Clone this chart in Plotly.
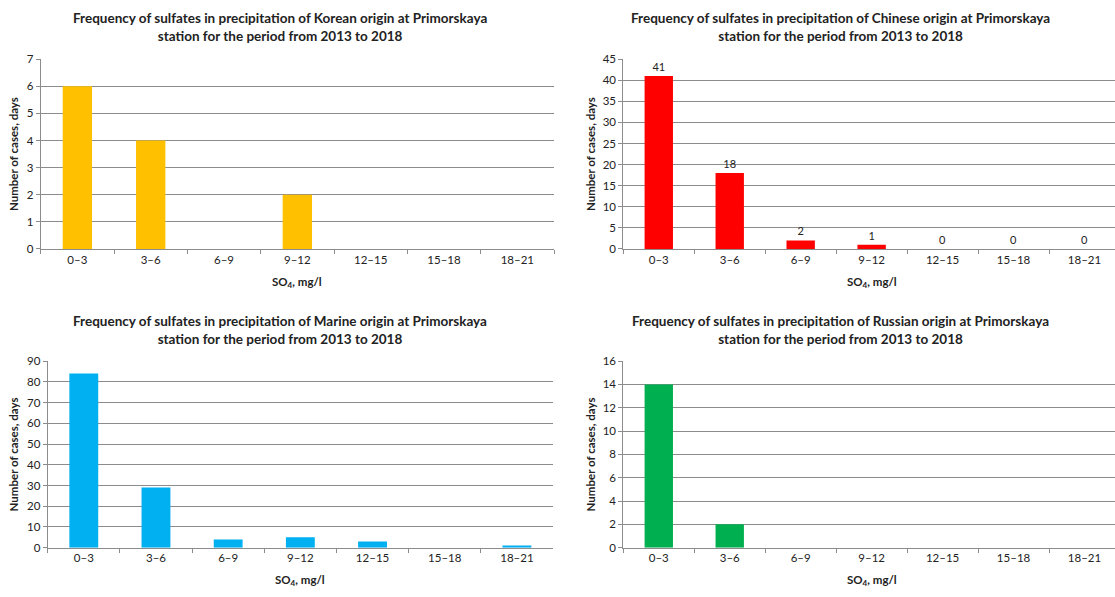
import plotly.graph_objects as go

W, H = 1115, 597

categories = ["0–3", "3–6", "6–9", "9–12", "12–15", "15–18", "18–21"]
korean = [6, 4, 0, 2, 0, 0, 0]
chinese = [41, 18, 2, 1, 0, 0, 0]
marine = [84, 29, 4, 5, 3, 0, 1]
russian = [14, 2, 0, 0, 0, 0, 0]

titles = [
    "Frequency of sulfates in precipitation of Korean origin at Primorskaya<br>station for the period from 2013 to 2018",
    "Frequency of sulfates in precipitation of Chinese origin at Primorskaya<br>station for the period from 2013 to 2018",
    "Frequency of sulfates in precipitation of Marine origin at Primorskaya<br>station for the period from 2013 to 2018",
    "Frequency of sulfates in precipitation of Russian origin at Primorskaya<br>station for the period from 2013 to 2018",
]
y_max = [7, 45, 90, 16]
y_step = [1, 5, 10, 2]
colors = ["#FFC000", "#FF0000", "#00B0F0", "#00B050"]
series = [korean, chinese, marine, russian]
show_labels = [False, True, False, False]

FONT = "Lato"
GRID = "#8c8c8c"

# panel geometry in pixels: (x0, x1, ytop, ybottom, xrange_max)
panels = [
    (40.7, 554.0, 53.3, 247.3, 6.5),
    (623.3, 1115.0, 53.3, 247.3, 6.43),
    (47.7, 553.0, 362.0, 552.7, 6.5),
    (623.3, 1115.0, 362.0, 552.7, 6.43),
]
title_pos = [(280, 20), (840, 20), (280, 330), (840, 330)]
ylab_x = [13, 590, 13, 590]
xlab_y = [282, 282, 586, 586]

fig = go.Figure()
annotations = []
layout = {}
for i in range(4):
    sx = "" if i == 0 else str(i + 1)
    x0, x1, yt, yb, xmax = panels[i]
    fig.add_trace(go.Bar(
        x=categories, y=series[i], marker_color=colors[i],
        marker_line_width=0,
        xaxis="x" + sx, yaxis="y" + sx, showlegend=False,
        text=[str(v) for v in series[i]] if show_labels[i] else None,
        textposition="outside" if show_labels[i] else "none",
        textfont=dict(family=FONT, size=11, color="#222"),
        cliponaxis=False,
    ))
    layout["xaxis" + sx] = dict(
        domain=[x0 / W, x1 / W], anchor="y" + sx,
        range=[-0.5, xmax], type="category",
        showline=True, linecolor=GRID, linewidth=1,
        ticks="outside", tickson="boundaries", ticklen=4, tickcolor=GRID,
        tickfont=dict(family=FONT, size=11.5, color="#222"),
        showgrid=False, fixedrange=True,
    )
    layout["yaxis" + sx] = dict(
        domain=[1 - yb / H, 1 - yt / H], anchor="x" + sx,
        range=[0, y_max[i]], dtick=y_step[i], tick0=0,
        showline=True, linecolor=GRID, linewidth=1,
        ticks="outside", ticklen=4, tickcolor=GRID,
        tickfont=dict(family=FONT, size=11.5, color="#222"),
        showgrid=True, gridcolor=GRID, gridwidth=1,
        zeroline=False,
    )
    annotations.append(dict(
        text="<b>" + titles[i] + "</b>", x=title_pos[i][0] / W, y=1 - title_pos[i][1] / H,
        xref="paper", yref="paper", showarrow=False, xanchor="center", yanchor="middle",
        font=dict(family=FONT, size=13.5, color="#222"), align="center",
    ))
    annotations.append(dict(
        text="<b>Number of cases, days</b>", x=ylab_x[i] / W, y=1 - (yt + yb) / 2 / H,
        xref="paper", yref="paper", showarrow=False, textangle=-90,
        xanchor="center", yanchor="middle",
        font=dict(family=FONT, size=11.5, color="#222"),
    ))
    full_x1 = x0 + 7 * (x1 - x0) / (xmax + 0.5)
    annotations.append(dict(
        text="<b>SO<sub>4</sub>, mg/l</b>", x=(x0 + full_x1) / 2 / W,
        y=1 - xlab_y[i] / H,
        xref="paper", yref="paper", showarrow=False, xanchor="center", yanchor="middle",
        font=dict(family=FONT, size=11.5, color="#222"),
    ))

fig.update_layout(
    width=W, height=H, margin=dict(l=0, r=0, t=0, b=0),
    paper_bgcolor="white", plot_bgcolor="white",
    bargap=0.6, annotations=annotations, **layout,
)
fig.write_html("out.html", config={"displayModeBar": False})
